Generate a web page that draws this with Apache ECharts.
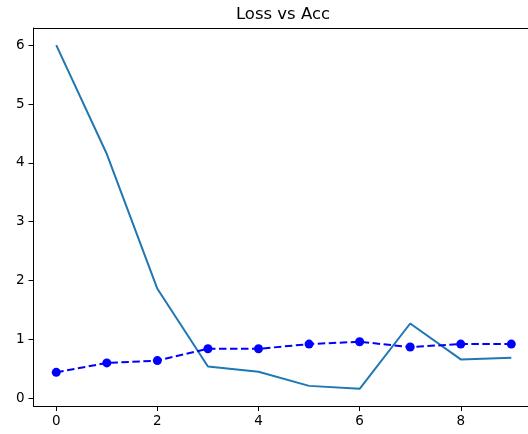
<!DOCTYPE html>
<html>
<head>
<meta charset="utf-8">
<script src="https://cdn.jsdelivr.net/npm/echarts@6/dist/echarts.min.js"></script>
<style>
  html, body { margin: 0; padding: 0; background: #fff; }
  #main { width: 528px; height: 434px; }
</style>
</head>
<body>
<div id="main"></div>
<script>
// epochs on x
const epochs = [0, 1, 2, 3, 4, 5, 6, 7, 8, 9];
const loss = [6.0, 4.15, 1.86, 0.54, 0.45, 0.21, 0.16, 1.27, 0.66, 0.69];
const acc = [0.44, 0.60, 0.64, 0.84, 0.84, 0.92, 0.96, 0.87, 0.92, 0.92];
const xTicks = [0, 2, 4, 6, 8];
const yTicks = [0, 1, 2, 3, 4, 5, 6];

const chart = echarts.init(document.getElementById('main'));

const font = 'DejaVu Sans';
const axisCommon = {
  axisLine: { show: true, onZero: false, lineStyle: { color: '#000', width: 1 } },
  axisTick: { show: true, inside: false, length: 5, lineStyle: { color: '#000', width: 1 } },
  axisLabel: { color: '#000', fontFamily: font, fontSize: 13.5 },
  splitLine: { show: false }
};

// the original figure is cropped on the right, so the axis ends before 9.45
const xMin = -0.45, xMax = 9.33;

const option = {
  animation: false,
  backgroundColor: '#fff',
  title: {
    text: 'Loss vs Acc',
    left: 278,
    textAlign: 'center',
    top: 1,
    textStyle: { fontFamily: font, fontSize: 16.5, fontWeight: 'normal', color: '#000' }
  },
  grid: { left: 33.5, right: 0, top: 28, bottom: 28, containLabel: false },
  xAxis: [
    {
      type: 'value',
      min: xMin,
      max: xMax,
      ...axisCommon,
      axisTick: { ...axisCommon.axisTick, customValues: xTicks },
      axisLabel: { ...axisCommon.axisLabel, margin: 8, customValues: xTicks }
    },
    {
      // top spine only
      type: 'value',
      position: 'top',
      min: xMin,
      max: xMax,
      axisLine: { show: true, onZero: false, lineStyle: { color: '#000', width: 1 } },
      axisTick: { show: false },
      axisLabel: { show: false },
      splitLine: { show: false }
    }
  ],
  yAxis: {
    type: 'value',
    min: -0.132,
    max: 6.292,
    ...axisCommon,
    axisTick: { ...axisCommon.axisTick, customValues: yTicks },
    axisLabel: { ...axisCommon.axisLabel, margin: 9, customValues: yTicks }
  },
  series: [
    {
      name: 'loss',
      type: 'line',
      data: epochs.map((e, i) => [e, loss[i]]),
      showSymbol: false,
      symbol: 'none',
      lineStyle: { color: '#1f77b4', width: 2 }
    },
    {
      name: 'acc',
      type: 'line',
      data: epochs.map((e, i) => [e, acc[i]]),
      symbol: 'circle',
      symbolSize: 9,
      itemStyle: { color: '#0000ff' },
      lineStyle: { color: '#0000ff', width: 2, type: [7.5, 3.5] }
    }
  ]
};

option && chart.setOption(option);
</script>
</body>
</html>
